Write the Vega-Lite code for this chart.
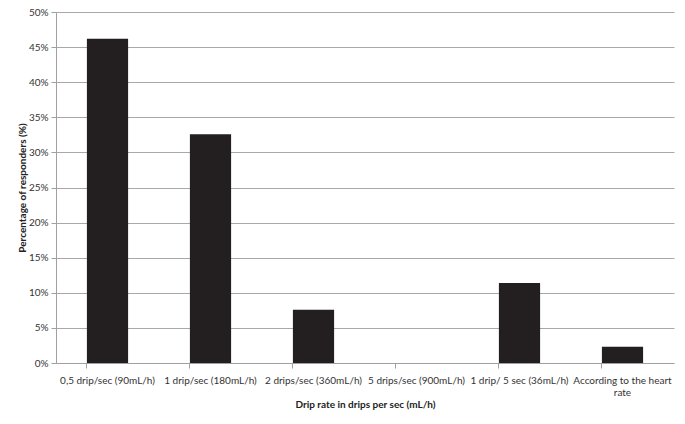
{
  "$schema": "https://vega.github.io/schema/vega-lite/v6.json",
  "width": 618,
  "height": 351,
  "autosize": "none",
  "padding": {"left": 56, "top": 12, "right": 11, "bottom": 61},
  "background": "white",
  "data": {
    "values": [
      {"rate": "0,5 drip/sec (90mL/h)", "pct": 46.2},
      {"rate": "1 drip/sec (180mL/h)", "pct": 32.6},
      {"rate": "2 drips/sec (360mL/h)", "pct": 7.6},
      {"rate": "5 drips/sec (900mL/h)", "pct": 0},
      {"rate": "1 drip/ 5 sec (36mL/h)", "pct": 11.4},
      {"rate": "According to the heart rate", "pct": 2.3}
    ]
  },
  "mark": {"type": "bar", "color": "#231f20"},
  "encoding": {
    "x": {
      "field": "rate",
      "type": "nominal",
      "sort": null,
      "title": "Drip rate in drips per sec (mL/h)",
      "scale": {"paddingInner": 0.6, "paddingOuter": 0.3},
      "axis": {
        "labelAngle": 0,
        "bandPosition": 0,
        "labelExpr": "datum.label == 'According to the heart rate' ? ['According to the heart', 'rate'] : datum.label",
        "labelPadding": 7,
        "labelLineHeight": 12,
        "titlePadding": 2,
        "grid": false
      }
    },
    "y": {
      "field": "pct",
      "type": "quantitative",
      "title": "Percentage of responders (%)",
      "scale": {"domain": [0, 50], "nice": false},
      "axis": {
        "values": [0, 5, 10, 15, 20, 25, 30, 35, 40, 45, 50],
        "labelExpr": "datum.value + '%'",
        "titlePadding": 1,
        "grid": true
      }
    }
  },
  "config": {
    "view": {"stroke": null},
    "font": "Lato",
    "axis": {
      "labelFont": "Lato",
      "labelFontSize": 10,
      "labelColor": "#333333",
      "titleFont": "Lato",
      "titleFontSize": 10,
      "titleFontWeight": "bold",
      "titleColor": "#222222",
      "domainColor": "#a0a0a0",
      "tickColor": "#a0a0a0",
      "gridColor": "#a8a8a8",
      "tickSize": 5,
      "labelPadding": 3
    }
  }
}
